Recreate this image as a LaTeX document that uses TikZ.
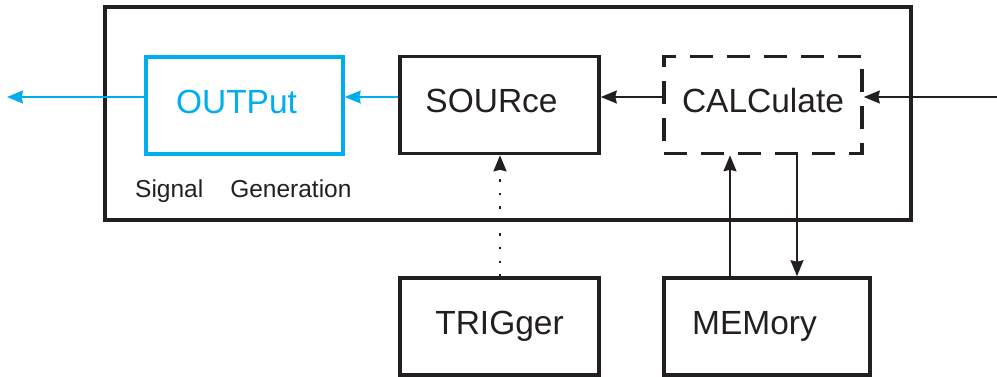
\documentclass[tikz,border=0pt]{standalone}
\usepackage{fontspec}
\setmainfont{Liberation Sans}
\usetikzlibrary{arrows.meta}
\definecolor{scpicyan}{RGB}{0,174,239}
\definecolor{inkdark}{RGB}{35,31,32}
\begin{document}
\begin{tikzpicture}[x=1pt,y=-1pt,
  every node/.style={text=inkdark},
  blockbox/.style={draw=inkdark, line width=3.6pt, minimum width=#1, minimum height=97pt,
    inner sep=0pt, font=\fontsize{33.5pt}{36pt}\selectfont, text height=16pt, text depth=0pt},
  blockbox/.default=198pt,
  tipstyle/.style={-{Stealth[length=16pt,width=13pt,inset=1.5pt]}},
  conn/.style={draw=inkdark, line width=1.8pt, tipstyle},
  cyanconn/.style={draw=scpicyan, line width=1.8pt, tipstyle}]
\useasboundingbox (0,0) rectangle (997,377);

% outer system box
\node[draw=inkdark, line width=4pt, minimum width=806pt, minimum height=213pt, inner sep=0pt] (sys) at (508,113.5) {};

% blocks
\node[blockbox=197pt, draw=scpicyan, text=scpicyan] (out) at (244.5,105.5) {OUTPut\kern16pt};
\node[blockbox=199pt] (src) at (499.5,105) {SOURce\kern16pt};
\node[blockbox=198pt, dash pattern=on 23pt off 14pt] (calc) at (763,105) {CALCulate};
\node[blockbox=199pt] (trig) at (499.5,326.5) {TRIGger};
\node[blockbox=206pt] (mem) at (767,326.5) {MEMory\kern25pt};

\node[anchor=base west, inner sep=0pt, font=\fontsize{24.5pt}{28pt}\selectfont] (siglbl) at (135,198) {Signal\kern27pt Generation};

% free ends
\coordinate (inp) at (997,97);
\coordinate (outp) at (7,97);

% connectors
\draw[conn] (inp) -- ([yshift=8pt]calc.east);
\draw[conn] ([yshift=8pt]calc.west) -- ([yshift=8pt]src.east);
\draw[cyanconn] ([yshift=8pt]src.west) -- ([yshift=8.5pt]out.east);
\draw[cyanconn] ([yshift=8.5pt]out.west) -- (outp);
\draw[conn] (mem.north -| 730,0) -- (calc.south -| 730,0);
\draw[conn] (calc.south -| 797,0) -- (mem.north -| 797,0);
\draw[draw=inkdark, line width=2.2pt, dash pattern=on 2.2pt off 11.3pt, tipstyle] (trig.north -| 500,0) -- (src.south -| 500,0);
\end{tikzpicture}
\end{document}
